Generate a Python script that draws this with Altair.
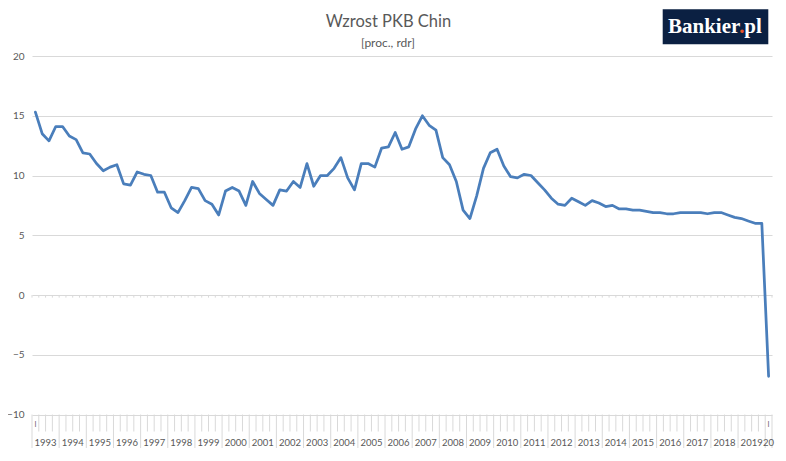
import altair as alt
import pandas as pd

# ---- data ----
years = list(range(1993, 2021))
year_labels = [str(y) for y in range(1993, 2020)] + ["20"]
quarter_first_label = "I"
gdp = [
    15.3, 13.5, 12.9, 14.1,   # 1993
    14.1, 13.3, 13.0, 11.9,   # 1994
    11.8, 11.0, 10.4, 10.7,   # 1995
    10.9, 9.3, 9.2, 10.3,     # 1996
    10.1, 10.0, 8.6, 8.6,     # 1997
    7.3, 6.9, 7.9, 9.0,       # 1998
    8.9, 7.9, 7.6, 6.7,       # 1999
    8.7, 9.0, 8.7, 7.5,       # 2000
    9.5, 8.5, 8.0, 7.5,       # 2001
    8.8, 8.7, 9.5, 9.0,       # 2002
    11.0, 9.1, 10.0, 10.0,    # 2003
    10.6, 11.5, 9.8, 8.8,     # 2004
    11.0, 11.0, 10.7, 12.3,   # 2005
    12.4, 13.6, 12.2, 12.4,   # 2006
    13.9, 15.0, 14.2, 13.8,   # 2007
    11.5, 10.9, 9.5, 7.1,     # 2008
    6.4, 8.3, 10.6, 11.9,     # 2009
    12.2, 10.8, 9.9, 9.8,     # 2010
    10.1, 10.0, 9.4, 8.8,     # 2011
    8.1, 7.6, 7.5, 8.1,       # 2012
    7.8, 7.5, 7.9, 7.7,       # 2013
    7.4, 7.5, 7.2, 7.2,       # 2014
    7.1, 7.1, 7.0, 6.9,       # 2015
    6.9, 6.8, 6.8, 6.9,       # 2016
    6.9, 6.9, 6.9, 6.8,       # 2017
    6.9, 6.9, 6.7, 6.5,       # 2018
    6.4, 6.2, 6.0, 6.0,       # 2019
    -6.8,                     # 2020
]
y_ticks = [-10, -5, 0, 5, 10, 15, 20]

n = len(gdp)
df = pd.DataFrame({"i": list(range(n)), "gdp": gdp})

bounds = pd.DataFrame({"b": [k - 0.5 for k in range(n + 1)]})
bounds["edge"] = [(k % 4 == 0) or (k == n) for k in range(n + 1)]
quarter_lines = bounds[~bounds["edge"]]
year_lines = bounds[bounds["edge"]]

year_df = pd.DataFrame({
    "label": year_labels,
    "c": [min(4 * k + 1.5, n - 1) for k in range(len(years))],
})
qlab_df = pd.DataFrame({"label": [quarter_first_label, quarter_first_label], "c": [0, n - 1]})

GRID = "#d9d9d9"
TXT = "#595959"
FONT = "Lato"

xs = alt.Scale(domain=[-0.5, n - 0.5], nice=False, zero=False)
ys = alt.Scale(domain=[-12.8, 20], nice=False, zero=False)

line = alt.Chart(df).mark_line(color="#4a7ebb", strokeWidth=2.75, strokeJoin="round", strokeCap="round").encode(
    x=alt.X("i:Q", scale=xs, axis=None),
    y=alt.Y("gdp:Q", scale=ys, axis=alt.Axis(values=y_ticks, title=None)),
)

zero_ticks = alt.Chart(bounds).mark_rule(color=GRID, strokeWidth=1).encode(
    x=alt.X("b:Q", scale=xs, axis=None),
    y=alt.datum(0),
    y2=alt.datum(-0.22),
)

q_lines = alt.Chart(quarter_lines).mark_rule(color=GRID, strokeWidth=1).encode(
    x=alt.X("b:Q", scale=xs, axis=None),
    y=alt.datum(-10),
    y2=alt.datum(-11.42),
)

y_lines = alt.Chart(year_lines).mark_rule(color=GRID, strokeWidth=1).encode(
    x=alt.X("b:Q", scale=xs, axis=None),
    y=alt.datum(-10),
    y2=alt.datum(-12.8),
)

year_text = alt.Chart(year_df).mark_text(font=FONT, fontSize=9.5, color=TXT, baseline="alphabetic", align="center").encode(
    x=alt.X("c:Q", scale=xs, axis=None),
    y=alt.datum(-12.6),
    text="label:N",
)

q_text = alt.Chart(qlab_df).mark_text(font=FONT, fontSize=7, color=TXT, baseline="alphabetic", align="center").encode(
    x=alt.X("c:Q", scale=xs, axis=None),
    y=alt.datum(-11.05),
    text="label:N",
)

title = alt.Chart(pd.DataFrame({"t": ["Wzrost PKB Chin"]})).mark_text(
    font=FONT, fontSize=16.5, color=TXT, baseline="alphabetic", align="center"
).encode(x=alt.value(356.5), y=alt.value(-29.3), text="t:N")

subtitle = alt.Chart(pd.DataFrame({"t": ["[proc., rdr]"]})).mark_text(
    font=FONT, fontSize=12, color=TXT, baseline="alphabetic", align="center"
).encode(x=alt.value(356), y=alt.value(-9.5), text="t:N")

logo_bg = alt.Chart(pd.DataFrame({"k": [1]})).mark_rect(color="#0b2042").encode(
    x=alt.value(630.7), x2=alt.value(736.3), y=alt.value(-46.7), y2=alt.value(-11.7)
)
logo_a = alt.Chart(pd.DataFrame({"t": ["Bankier"]})).mark_text(
    font="Liberation Serif", fontWeight="bold", fontSize=21, color="white", baseline="alphabetic", align="left"
).encode(x=alt.value(636), y=alt.value(-22.7), text="t:N")
logo_dot = alt.Chart(pd.DataFrame({"t": ["."]})).mark_text(
    font="Liberation Serif", fontWeight="bold", fontSize=21, color="#e8542a", baseline="alphabetic", align="left"
).encode(x=alt.value(707.3), y=alt.value(-22.7), text="t:N")
logo_b = alt.Chart(pd.DataFrame({"t": ["pl"]})).mark_text(
    font="Liberation Serif", fontWeight="bold", fontSize=21, color="white", baseline="alphabetic", align="left"
).encode(x=alt.value(712.3), y=alt.value(-22.7), text="t:N")

chart = alt.layer(
    zero_ticks, q_lines, y_lines, year_text, q_text, line,
    title, subtitle, logo_bg, logo_a, logo_dot, logo_b,
).properties(
    width=740,
    height=392,
    autosize=alt.AutoSizeParams(type="none"),
    padding={"left": 24, "top": 48, "right": 6, "bottom": 0},
    background="white",
).configure_view(
    stroke=None
).configure_axisY(
    grid=True, gridColor=GRID, gridWidth=1, domain=False, ticks=False, tickSize=0,
    labelPadding=8, labelColor=TXT, labelFont=FONT, labelFontSize=10,
)

chart.save("out.html", embed_options={"renderer": "svg", "actions": False})
